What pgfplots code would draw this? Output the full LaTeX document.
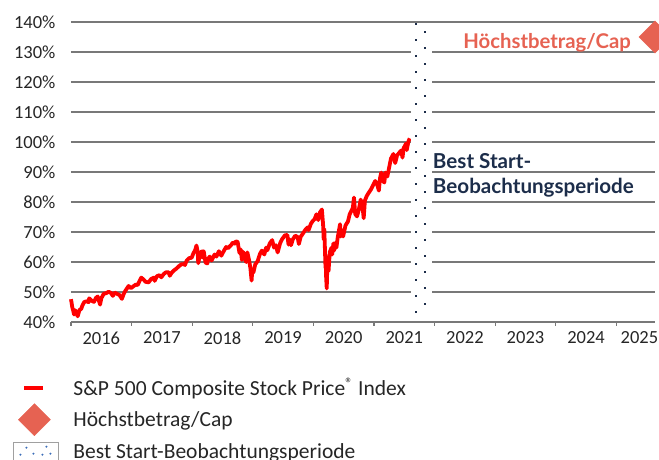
\documentclass[border=0pt]{standalone}
\usepackage{fontspec}
\setmainfont{Carlito}
\newfontfamily\annfont{Lato}
\usepackage{pgfplots}
\pgfplotsset{compat=1.18}
\definecolor{spred}{RGB}{255,0,0}
\definecolor{capcol}{RGB}{230,98,82}
\definecolor{navy}{RGB}{28,45,74}
\definecolor{gridgray}{RGB}{120,120,120}
\definecolor{dotblue}{RGB}{60,110,185}
\pgfplotstableread{
x y
2016.00 47.6
2016.01 46.4
2016.02 45.0
2016.04 43.5
2016.05 42.5
2016.07 43.9
2016.09 43.0
2016.11 41.9
2016.14 44.0
2016.17 44.4
2016.19 45.6
2016.22 46.7
2016.26 46.9
2016.29 46.6
2016.30 47.9
2016.34 47.1
2016.38 46.7
2016.41 48.0
2016.44 48.5
2016.48 45.8
2016.50 47.9
2016.54 49.4
2016.58 49.6
2016.62 50.1
2016.66 49.7
2016.69 48.7
2016.72 49.8
2016.76 49.4
2016.80 49.0
2016.84 47.7
2016.87 49.4
2016.90 50.5
2016.95 52.0
2016.99 51.3
2017.03 51.9
2017.07 52.5
2017.10 52.3
2017.13 53.6
2017.16 54.8
2017.20 54.1
2017.23 53.4
2017.28 53.2
2017.32 54.3
2017.37 54.8
2017.38 53.7
2017.42 55.3
2017.46 55.6
2017.49 54.9
2017.53 56.0
2017.57 56.6
2017.61 56.6
2017.63 55.4
2017.66 56.4
2017.70 57.2
2017.74 57.8
2017.78 58.6
2017.82 59.2
2017.86 59.3
2017.88 59.0
2017.91 60.5
2017.95 61.3
2017.99 61.4
2018.02 62.9
2018.05 64.0
2018.07 65.5
2018.09 63.5
2018.10 59.6
2018.13 62.7
2018.16 63.6
2018.17 61.5
2018.19 63.6
2018.22 59.8
2018.25 59.5
2018.26 61.0
2018.29 61.8
2018.32 60.5
2018.37 62.5
2018.40 61.8
2018.44 63.6
2018.48 62.1
2018.53 64.0
2018.56 65.0
2018.59 64.6
2018.64 65.6
2018.67 66.5
2018.70 66.1
2018.72 66.9
2018.75 66.7
2018.78 63.0
2018.80 64.2
2018.82 60.7
2018.84 63.4
2018.86 61.6
2018.89 60.0
2018.91 63.2
2018.94 60.5
2018.96 58.0
2018.98 53.8
2018.99 57.0
2019.01 56.5
2019.04 59.2
2019.08 60.3
2019.12 62.8
2019.15 63.8
2019.19 62.5
2019.22 64.8
2019.24 63.9
2019.28 66.2
2019.32 67.3
2019.35 64.8
2019.38 65.6
2019.41 63.2
2019.45 66.2
2019.48 67.5
2019.53 68.9
2019.57 69.0
2019.59 65.8
2019.61 67.5
2019.63 65.6
2019.66 67.5
2019.70 68.8
2019.74 68.3
2019.76 66.0
2019.79 68.4
2019.83 69.6
2019.87 70.8
2019.91 71.6
2019.92 70.6
2019.96 72.8
2019.99 73.7
2020.02 74.3
2020.05 75.9
2020.08 74.0
2020.11 76.6
2020.14 77.5
2020.16 72.5
2020.17 67.5
2020.18 71.0
2020.19 64.5
2020.20 58.0
2020.205 62.0
2020.21 55.0
2020.22 51.2
2020.23 58.7
2020.25 57.0
2020.27 63.3
2020.30 64.8
2020.31 62.5
2020.33 66.2
2020.34 63.8
2020.37 66.5
2020.38 64.8
2020.40 68.0
2020.44 72.6
2020.45 68.5
2020.48 70.5
2020.49 68.5
2020.53 72.2
2020.57 73.5
2020.60 76.0
2020.65 78.0
2020.67 81.5
2020.69 76.0
2020.72 75.2
2020.75 77.5
2020.78 80.8
2020.81 78.5
2020.83 74.6
2020.85 80.5
2020.88 82.0
2020.91 83.0
2020.95 84.2
2020.99 85.8
2021.02 87.0
2021.05 86.0
2021.08 83.8
2021.10 88.0
2021.12 89.8
2021.15 87.0
2021.17 86.5
2021.19 89.8
2021.22 88.5
2021.25 91.5
2021.28 94.5
2021.32 96.0
2021.35 93.0
2021.38 95.5
2021.42 96.5
2021.45 97.2
2021.47 94.8
2021.49 98.0
2021.53 99.5
2021.54 97.3
2021.57 100.3
2021.59 101.2
}\spdata
\begin{document}
\begin{tikzpicture}
\begin{axis}[
  at={(0,0)}, anchor=south west,
  scale only axis, width=584pt, height=300pt,
  xmin=2016, xmax=2025.637, ymin=40, ymax=140,
  clip=false,
  axis line style={draw=none},
  /pgf/number format/assume math mode=true,
  ymajorgrids, grid style={gridgray, line width=1.5pt},
  ytick={40,50,...,140},
  yticklabel={\pgfmathprintnumber{\tick}\%},
  ytick style={draw=none},
  xtick={2016.5,2017.5,2018.5,2019.5,2020.5,2021.5,2022.5,2023.5,2024.5,2025.38},
  xticklabels={2016,2017,2018,2019,2020,2021,2022,2023,2024,2025},
  major tick length=0pt,
  xtick pos=left, ytick pos=left,
  tick align=outside,
  extra x ticks={2016,2017,2018,2019,2020,2021,2022,2023,2024,2025},
  extra x tick labels={},
  extra x tick style={major tick length=3.5pt, grid=none, tick style={draw=gridgray, line width=1.2pt}},
  ticklabel style={font=\fontsize{18.5}{20}\selectfont, text=black!85},
  yticklabel style={xshift=-12pt},
  xticklabel style={yshift=-6pt},
  legend style={at={(axis description cs:0,0)}, anchor=north west, xshift=-58pt, yshift=-50pt,
    draw=none, fill=none, inner sep=0pt, outer sep=0pt, row sep=0pt,
    font=\fontsize{21.5}{23}\selectfont, nodes={inner sep=2pt, text=black!85}},
  legend cell align=left,
]
\addplot[spred, line width=3.8pt, line join=round, forget plot] table[x=x,y=y] {\spdata};
% Best Start observation period
\fill[white] (axis cs:2021.61,40.4) rectangle (axis cs:2021.96,139.6);
\draw[navy, line width=1.8pt, dash pattern=on 1.8pt off 14.2pt] (axis cs:2021.693,139.6) -- (axis cs:2021.693,41);
\draw[navy, line width=1.8pt, dash pattern=on 1.8pt off 14.2pt] (axis cs:2021.842,136.9) -- (axis cs:2021.842,41);
% Cap marker
\addplot[only marks, mark=square*, mark size=11.3pt, mark options={rotate=45, fill=capcol, draw=capcol}, forget plot] coordinates {(2025.637,135)};
\node[anchor=base east, inner sep=0pt, text=capcol, font=\annfont\bfseries\fontsize{20.3}{24}\selectfont, xshift=-24pt] at (axis cs:2025.637,131.3) {Höchstbetrag/Cap};
\node[anchor=north west, inner sep=0pt, align=left, text=navy, font=\annfont\bfseries\fontsize{20.6}{25}\selectfont] at (axis cs:2021.97,96.33) {Best Start-\\Beobachtungsperiode};
% legend
\addlegendimage{legend image code/.code={
  \path[draw=none, fill=none] (0pt,-15.75pt) rectangle (58pt,15.75pt);
  \draw[spred, line width=4pt] (11pt,0pt) -- (30pt,0pt);
}}
\addlegendentry{S\&P 500 Composite Stock Price\textsuperscript{®} Index}
\addlegendimage{legend image code/.code={
  \path[draw=none, fill=none] (0pt,-15.75pt) rectangle (58pt,15.75pt);
  \fill[capcol] (21pt,16pt) -- (37pt,0pt) -- (21pt,-16pt) -- (5pt,0pt) -- cycle;
}}
\addlegendentry{Höchstbetrag/Cap}
\addlegendimage{legend image code/.code={
  \path[draw=none, fill=none] (0pt,-15.75pt) rectangle (58pt,15.75pt);
  \draw[gridgray!70, line width=0.9pt] (0pt,-9.5pt) rectangle (45pt,9.5pt);
  \foreach \px/\py in {7/-3,20/-2,29/-3,37/-2,13/4,33/5}{\fill[dotblue] (\px pt,\py pt) circle (0.8pt);}
}}
\addlegendentry{Best Start-Beobachtungsperiode}
\end{axis}
\pgfresetboundingbox
\path (-71pt,-137pt) rectangle (588pt,322pt);
\end{tikzpicture}
\end{document}
